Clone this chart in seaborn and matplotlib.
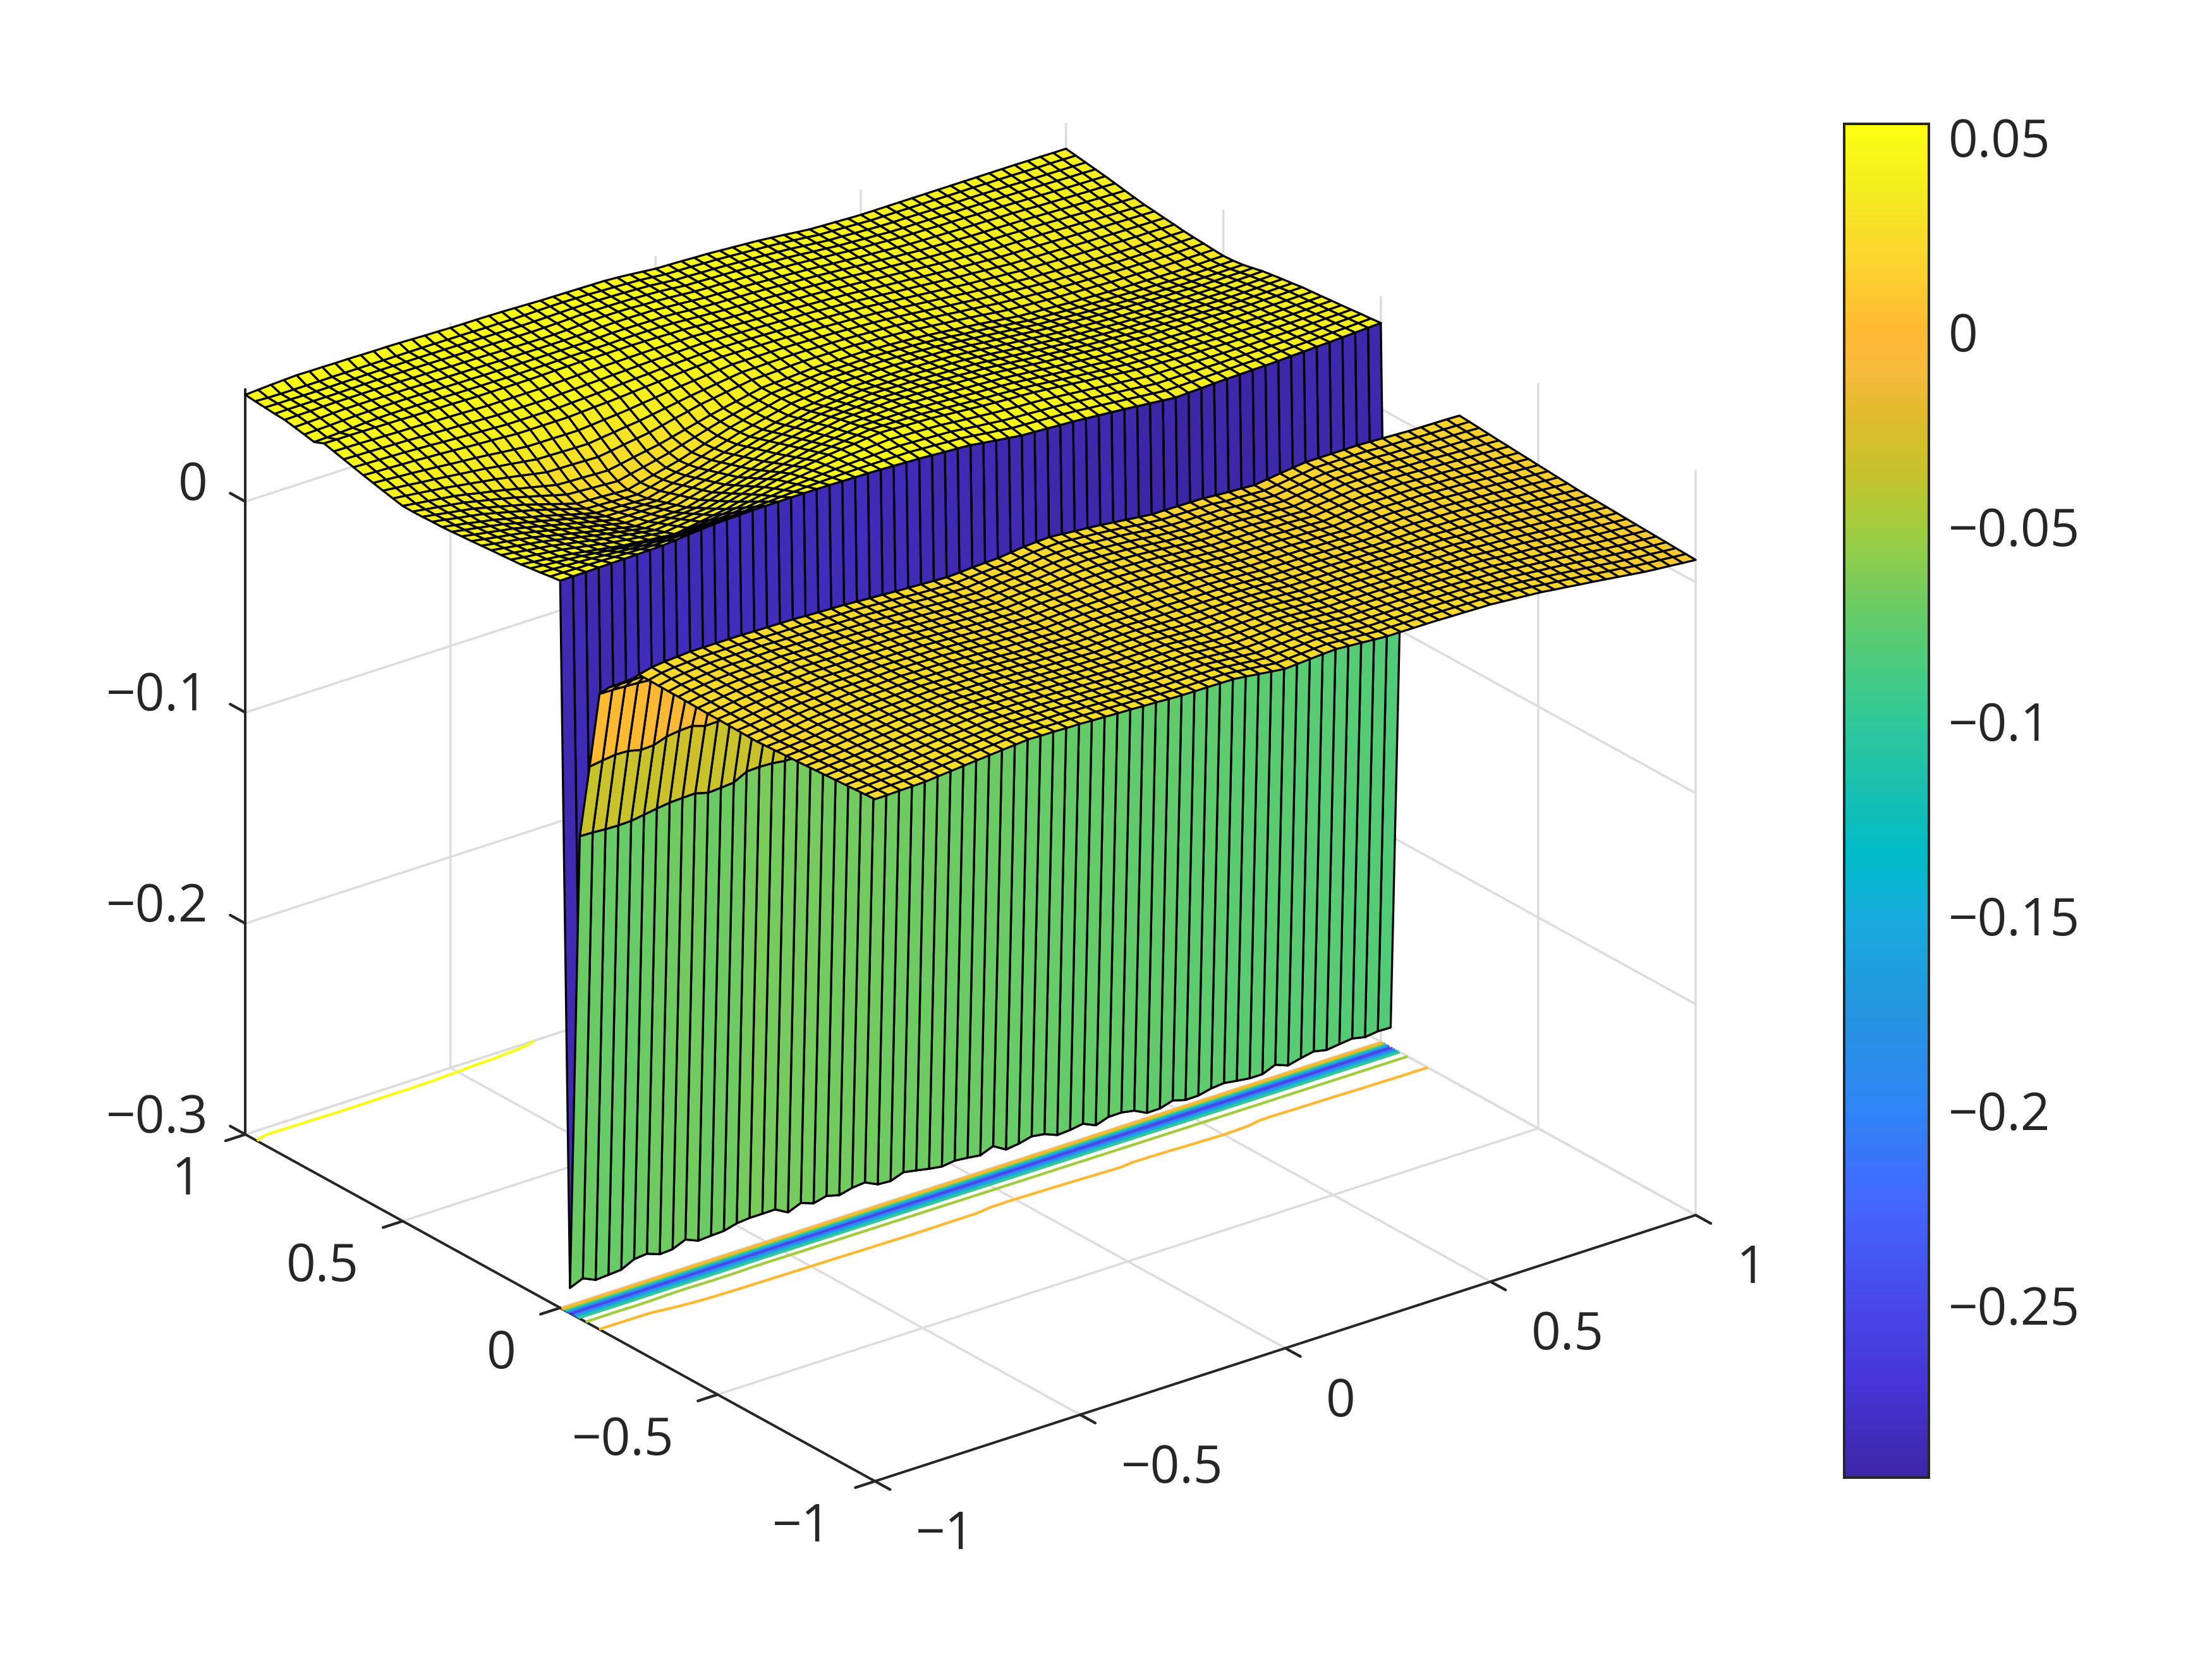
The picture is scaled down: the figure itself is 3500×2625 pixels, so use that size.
import numpy as np
import seaborn as sns
import matplotlib.pyplot as plt
from matplotlib.colors import LinearSegmentedColormap, Normalize
from matplotlib.cm import ScalarMappable
from mpl_toolkits.mplot3d import proj3d

sns.set_theme(style="white")
plt.rcParams['font.family'] = ['Open Sans', 'DejaVu Sans']

# surface heights, in units of 1e-4, one row per y (65 x 65 mesh)
# y = -1 ... -0.25
low_plate = [
 [213,214,216,217, 219,225,230,236, 241,246,251,256, 261,259,258,256, 255,252,250,247, 245,242,240,236, 234,233,233,232, 231,224,216,208, 201,205,209,213, 216,211,207,202, 198,198,197,197, 196,194,193,191, 190,185,180,175, 170,162,155,147, 140,132,124,116, 108,102,97,91, 86],
 [210,212,215,216, 218,223,229,234, 239,245,249,254, 258,257,255,253, 252,250,247,245, 242,240,237,233, 231,230,230,229, 228,222,215,208, 201,204,207,211, 214,209,205,200, 196,196,195,195, 194,192,191,189, 188,184,179,174, 169,161,155,148, 141,133,126,118, 110,104,99,93, 88],
 [207,210,213,215, 217,222,227,233, 238,243,247,251, 255,254,252,251, 250,247,244,241, 238,236,233,230, 227,227,227,226, 226,219,213,206, 200,203,206,209, 212,208,203,198, 194,194,193,192, 192,190,189,187, 185,181,177,172, 168,161,155,148, 141,134,127,119, 112,106,101,95, 90],
 [204,207,211,213, 215,220,225,231, 236,240,244,248, 252,251,250,248, 247,244,241,238, 235,232,229,226, 224,224,224,223, 223,217,211,205, 199,201,204,207, 210,206,201,197, 192,192,191,190, 190,188,186,184, 183,179,175,171, 167,160,154,148, 142,135,128,121, 114,108,102,97, 92],
 [201,204,208,211, 214,219,224,229, 234,238,241,245, 250,248,247,245, 244,241,238,235, 232,229,226,223, 221,221,221,220, 220,214,209,203, 199,201,203,206, 209,204,199,195, 190,190,189,188, 187,185,184,182, 180,177,173,170, 167,160,154,148, 143,136,129,122, 115,109,104,99, 94],
 [198,202,206,210, 213,218,223,227, 232,236,240,243, 247,245,244,243, 241,238,235,232, 229,226,223,220, 218,218,218,217, 218,212,207,202, 198,200,202,205, 207,203,198,193, 188,188,187,186, 185,183,181,179, 178,175,172,169, 165,159,153,148, 143,137,130,124, 117,111,106,101, 96],
 [195,199,203,207, 212,216,221,226, 230,234,237,240, 244,243,241,240, 238,235,232,229, 225,222,219,217, 214,215,215,215, 215,210,205,200, 198,199,201,203, 205,201,196,191, 186,186,185,184, 183,181,179,177, 175,173,170,167, 165,159,153,148, 144,137,131,125, 119,113,108,103, 98],
 [192,196,200,205, 210,215,220,224, 229,232,235,238, 241,240,238,237, 235,232,229,226, 222,219,216,214, 211,212,212,212, 213,208,203,199, 197,198,200,201, 203,199,195,190, 185,184,183,182, 181,179,177,175, 173,171,169,166, 164,158,153,149, 145,138,132,127, 121,115,110,105, 100],
 [189,193,198,203, 209,214,219,223, 228,230,232,235, 239,237,235,234, 233,229,226,223, 219,216,213,211, 208,209,209,210, 210,206,202,198, 197,197,198,200, 201,197,193,188, 183,182,181,180, 179,177,175,173, 170,169,167,165, 164,158,153,149, 145,139,133,128, 122,117,112,107, 102],
 [187,191,196,201, 208,213,218,222, 226,228,230,233, 236,234,232,231, 230,226,223,219, 216,213,211,208, 205,206,207,207, 208,204,200,197, 196,196,197,198, 199,195,191,186, 181,180,179,178, 177,175,173,171, 168,167,166,164, 163,158,154,150, 147,141,135,130, 124,119,114,109, 104],
 [184,188,193,199, 207,212,216,220, 225,227,229,231, 233,232,230,228, 228,224,221,217, 212,210,208,205, 202,203,204,205, 205,202,199,197, 196,195,196,195, 195,193,190,185, 179,178,177,176, 175,173,171,169, 165,165,164,163, 162,157,154,151, 148,142,137,132, 126,121,116,110, 106],
 [181,185,191,198, 206,211,215,219, 223,225,227,229, 231,229,227,226, 225,221,218,214, 209,207,205,202, 199,200,201,202, 203,200,197,196, 195,194,194,193, 192,190,188,183, 177,176,175,174, 173,171,169,167, 163,163,162,161, 161,157,154,151, 149,144,139,134, 128,123,118,112, 108],
 [178,184,190,197, 205,210,214,218, 222,224,225,227, 228,227,225,224, 222,218,215,210, 205,203,201,198, 195,197,198,199, 200,198,196,195, 195,193,192,191, 190,188,185,180, 175,174,173,171, 170,168,166,163, 160,160,160,160, 160,157,155,153, 150,145,141,136, 130,125,120,115, 110],
 [179,185,191,199, 206,211,214,218, 222,222,223,225, 227,225,224,222, 220,216,213,208, 204,202,199,197, 193,196,197,199, 199,198,197,196, 196,194,192,191, 190,186,183,179, 174,173,171,170, 169,166,164,161, 158,159,160,161, 161,158,157,155, 152,147,143,138, 132,128,123,118, 114],
 [180,186,193,200, 207,211,214,218, 221,221,222,223, 225,224,222,220, 219,215,211,206, 202,200,197,195, 192,195,196,198, 198,198,198,197, 197,195,193,191, 190,185,182,177, 172,171,170,168, 167,164,162,159, 156,158,160,161, 162,160,158,157, 153,149,145,141, 135,130,126,121, 117],
 [181,187,194,202, 208,211,213,217, 221,220,220,221, 223,222,220,218, 217,213,209,204, 200,198,195,193, 190,193,195,197, 197,198,199,199, 198,196,194,192, 189,185,181,176, 171,170,168,167, 165,162,160,157, 153,156,160,162, 163,161,160,159, 155,151,148,143, 138,134,129,125, 121],
 [182,188,196,203, 209,212,213,216, 220,219,218,219, 220,219,218,216, 215,211,207,203, 199,196,193,191, 188,191,194,196, 196,198,200,200, 200,197,195,192, 189,184,180,175, 170,168,166,165, 164,160,158,154, 151,155,159,162, 164,162,161,161, 157,153,150,146, 140,136,132,128, 124],
 [182,190,198,205, 210,212,213,216, 219,218,217,217, 218,217,216,214, 213,209,205,201, 197,194,191,189, 186,190,193,195, 195,198,200,201, 201,198,195,193, 188,183,178,173, 168,167,165,163, 162,158,156,152, 148,153,158,162, 165,163,163,162, 159,155,152,148, 143,139,135,132, 128],
 [183,192,199,206, 211,213,213,215, 219,217,216,215, 216,215,214,212, 211,207,203,199, 196,192,189,187, 184,188,192,194, 194,198,201,202, 202,199,196,193, 188,182,177,172, 166,165,163,162, 160,156,154,150, 146,152,157,162, 166,165,165,164, 160,156,154,150, 146,142,139,135, 131],
 [184,194,201,208, 212,214,214,215, 219,217,215,214, 215,213,212,210, 209,205,201,197, 194,190,187,185, 182,187,190,192, 193,197,201,203, 203,200,197,193, 188,182,176,170, 165,164,162,160, 159,154,152,148, 144,151,156,162, 167,166,166,165, 162,158,155,152, 148,145,142,139, 135],
 [185,196,203,209, 213,215,215,216, 218,216,214,213, 214,212,210,208, 207,203,199,196, 192,188,185,183, 180,185,189,191, 192,197,202,204, 205,201,197,193, 187,181,174,169, 163,162,160,159, 157,152,150,146, 142,149,155,162, 168,167,167,166, 163,159,157,154, 150,147,145,142, 138],
 [185,197,204,210, 214,216,216,217, 218,215,213,212, 212,210,208,206, 205,201,197,194, 191,186,183,181, 178,183,187,190, 191,196,202,205, 205,201,197,192, 187,180,173,167, 162,160,159,157, 156,150,148,144, 141,148,155,162, 168,168,168,167, 165,161,158,156, 152,150,148,145, 142],
 [186,199,206,211, 215,216,216,217, 217,214,212,211, 211,209,207,205, 204,200,196,193, 190,185,182,179, 177,182,186,189, 190,196,202,205, 206,202,197,192, 187,180,172,166, 160,159,158,156, 156,149,147,143, 140,147,154,162, 168,168,168,168, 166,162,160,157, 154,152,151,149, 146],
 [187,201,208,212, 216,216,216,217, 217,214,212,211, 211,208,206,204, 203,199,195,192, 188,183,180,178, 176,180,184,187, 188,195,202,205, 207,202,197,192, 186,179,171,165, 159,158,157,156, 155,148,146,142, 139,146,154,161, 169,169,169,169, 168,164,161,160, 156,154,153,151, 150],
 [187,202,209,213, 217,217,217,217, 217,215,214,213, 212,209,206,204, 202,198,194,191, 187,184,181,178, 175,178,182,185, 187,194,201,205, 208,203,197,192, 186,179,172,165, 158,158,157,156, 155,150,146,143, 139,147,155,162, 169,169,169,169, 169,167,164,161, 158,157,156,155, 153],
]
# rows hidden behind the plate, y = -0.22 ... -0.16
hidden_rows = [
 [150,152,156,160, 164,166,167,168, 168,166,165,164, 163,160,157,155, 153,150,146,143, 140,136,133,130, 127,130,134,137, 139,145,152,156, 159,154,148,143, 137,130,123,116, 110,110,109,108, 107,101,98,95, 91,98,106,113, 120,120,120,120, 120,118,115,112, 109,108,107,106, 104],
 [110,112,116,120, 124,126,127,128, 128,126,125,124, 123,120,117,115, 113,110,106,103, 100,96,93,90, 87,90,94,97, 99,105,112,116, 119,114,108,103, 97,90,83,76, 70,70,69,68, 67,61,58,55, 51,58,66,73, 80,80,80,80, 80,78,75,72, 69,68,67,66, 64],
 [70,72,76,80, 84,86,87,88, 88,86,85,84, 83,80,77,75, 73,70,66,63, 60,56,53,50, 47,50,54,57, 59,65,72,76, 79,74,68,63, 57,50,43,36, 30,30,29,28, 27,21,18,15, 11,18,26,33, 40,40,40,40, 40,38,35,32, 29,28,27,26, 24],
]
# y = -0.125, top of the orange cells
wall_orange = [13,12,9,6, 0,-15,-35,-55, -75,-85,-95,-100, -105,-110,-112,-118, -120,-122,-118,-125, -128,-125,-130,-132, -135,-138,-140,-142, -150,-155,-85,-80, -85,-88,-92,-95, -98,-102,-105,-110, -115,-60,-60,-65, -70,-75,-80,-85, -90,-95,-100,-45, -50,-55,-60,-65, -68,-70,-72,-75, -75,-78,-80,-80, -80]
# y = -0.094, top of the olive cells
wall_olive = [-357,-348,-340,-342, -357,-354,-333,-325, -322,-342,-340,-338, -340,-342,-344,-343, -345,-347,-346,-348, -350,-349,-351,-352, -350,-353,-355,-354, -352,-355,-357,-356, -358,-357,-359,-361, -360,-358,-360,-362, -361,-363,-362,-364, -366,-365,-367,-368, -366,-368,-370,-369, -371,-372,-370,-373, -374,-372,-375,-376, -374,-376,-378,-377, -378]
# y = -0.0625, top of the green cells
wall_green = [-713,-715,-719,-721, -719,-710,-700,-692, -689,-687,-704,-700, -695,-663,-660,-663, -671,-672,-675,-678, -680,-684,-686,-689, -691,-694,-697,-699, -702,-705,-707,-710, -713,-716,-719,-722, -725,-728,-731,-733, -737,-740,-743,-746, -749,-752,-755,-758, -761,-764,-767,-771, -774,-777,-780,-783, -786,-790,-793,-796, -800,-804,-808,-813, -820]
# y = -0.031, jagged bottom edge of the wall
wall_bottom = [-2880,-2854,-2881,-2877, -2872,-2842,-2836,-2858, -2854,-2828,-2853,-2849, -2846,-2830,-2824,-2824, -2823,-2857,-2832,-2853, -2838,-2854,-2839,-2833, -2862,-2866,-2844,-2855, -2867,-2876,-2868,-2874, -2882,-2858,-2894,-2886, -2871,-2880,-2904,-2900, -2890,-2917,-2897,-2896, -2907,-2937,-2936,-2918, -2935,-2934,-2920,-2914, -2923,-2931,-2931,-2906, -2929,-2914,-2902,-2915, -2907,-2900,-2913,-2905, -2907]
# y = 0 ... 0.75
top_plate = [
 [419,420,421,422, 423,424,425,427, 428,434,440,445, 451,453,455,457, 458,458,459,459, 459,458,457,456, 455,453,451,448, 446,442,438,435, 431,422,414,406, 398,395,392,388, 385,380,375,370, 365,359,353,347, 341,344,346,349, 351,352,354,355, 357,360,362,365, 367,370,373,376, 379],
 [413,412,411,410, 409,407,405,404, 402,404,407,410, 413,417,420,424, 428,432,436,440, 444,446,448,450, 451,451,451,451, 451,447,444,440, 437,430,422,415, 407,404,401,397, 394,389,383,378, 372,366,360,354, 348,349,350,352, 353,354,355,355, 356,358,360,362, 364,367,369,372, 374],
 [406,403,400,397, 394,389,385,380, 376,375,375,375, 375,381,387,393, 399,407,414,422, 430,434,439,443, 447,449,451,453, 455,452,449,446, 443,436,429,423, 416,412,409,405, 402,397,391,386, 380,374,368,361, 355,355,355,355, 355,355,356,356, 356,357,358,360, 361,363,366,368, 370],
 [400,395,390,385, 380,373,365,358, 351,348,345,341, 338,346,354,362, 370,381,393,404, 415,422,430,437, 444,448,452,456, 460,457,455,452, 449,443,437,432, 426,422,418,415, 411,405,399,393, 387,381,375,369, 363,361,360,359, 358,357,356,356, 355,356,357,357, 358,360,362,363, 365],
 [393,386,379,372, 365,355,345,335, 325,319,312,306, 300,310,320,330, 340,355,370,385, 400,410,420,430, 440,446,452,459, 465,463,460,458, 455,450,445,440, 435,431,427,424, 420,414,408,402, 395,389,383,376, 370,367,365,362, 360,359,358,356, 355,355,355,355, 355,356,358,359, 360],
 [390,382,375,367, 359,348,337,326, 315,307,299,292, 284,292,300,308, 316,331,347,362, 378,390,401,413, 425,433,440,448, 455,454,453,451, 450,445,441,436, 432,428,425,421, 417,411,405,398, 392,386,380,375, 369,366,363,360, 357,356,355,353, 352,352,351,351, 351,352,353,355, 356],
 [386,378,369,361, 352,340,329,317, 305,296,287,277, 268,274,280,286, 292,307,323,339, 355,369,383,396, 410,419,428,436, 445,445,445,445, 445,441,438,434, 430,426,423,419, 415,409,402,396, 390,384,379,373, 367,364,361,358, 355,354,352,351, 350,349,349,348, 347,348,349,350, 351],
 [383,374,365,355, 346,333,320,308, 295,284,273,262, 251,256,260,264, 269,285,301,317, 333,348,364,379, 395,405,415,425, 435,436,437,439, 440,437,434,430, 427,423,420,416, 412,406,400,393, 387,382,376,371, 366,362,359,355, 352,351,349,348, 347,346,345,345, 344,345,345,346, 347],
 [379,369,360,350, 340,326,312,299, 285,272,260,247, 235,237,240,242, 245,261,277,294, 310,328,345,362, 380,391,402,414, 425,428,430,432, 435,432,430,428, 425,421,418,414, 410,404,398,391, 385,380,375,370, 365,361,358,354, 350,349,348,346, 345,344,342,341, 340,341,341,342, 343],
 [375,365,355,345, 335,321,307,293, 279,265,252,238, 225,226,227,229, 230,246,262,279, 295,313,330,348, 365,377,389,400, 412,416,419,423, 426,424,422,421, 419,415,412,408, 405,399,393,386, 380,375,369,364, 359,355,352,348, 344,343,341,339, 337,336,334,333, 332,333,334,335, 336],
 [372,361,351,340, 330,315,301,286, 272,258,243,229, 215,215,215,215, 215,231,248,264, 280,298,315,333, 350,363,375,388, 400,405,409,414, 418,417,415,414, 412,409,406,403, 400,394,387,381, 375,369,364,358, 352,349,345,342, 338,336,334,332, 330,329,327,326, 325,326,327,329, 330],
 [368,357,347,336, 325,310,295,281, 266,251,236,220, 205,204,202,201, 200,216,233,249, 265,283,300,318, 335,348,361,374, 387,392,398,403, 409,408,407,407, 406,403,400,398, 395,389,383,376, 370,364,358,352, 346,342,339,335, 331,329,326,324, 322,321,319,318, 317,318,320,321, 323],
 [365,354,343,331, 320,305,290,275, 260,244,227,211, 195,192,190,187, 185,201,218,234, 250,268,285,303, 320,334,348,361, 375,381,388,394, 400,400,400,400, 400,398,395,393, 390,384,378,371, 365,359,353,346, 340,336,333,329, 325,322,320,317, 315,314,312,311, 310,311,313,314, 316],
 [364,354,343,333, 322,307,292,277, 262,244,226,208, 190,187,184,181, 178,193,209,224, 240,259,278,296, 315,329,344,358, 373,379,385,391, 397,397,397,397, 397,394,391,388, 385,379,373,366, 360,354,348,341, 335,331,328,324, 320,318,315,313, 310,308,307,305, 303,303,304,304, 305],
 [362,352,342,332, 322,307,292,277, 262,243,225,206, 188,185,182,178, 175,190,205,220, 235,254,274,293, 312,327,342,356, 371,377,382,388, 393,393,393,393, 393,390,387,383, 380,374,368,361, 355,348,342,335, 328,324,320,316, 312,309,306,303, 300,299,298,296, 295,295,295,295, 295],
 [361,352,343,334, 325,311,298,284, 270,254,238,221, 205,201,197,194, 190,204,217,231, 245,263,280,298, 315,329,343,356, 370,375,379,384, 388,388,388,389, 389,386,382,379, 375,369,363,356, 350,343,335,328, 320,316,313,309, 305,303,300,298, 295,293,292,290, 288,288,288,289, 289],
 [362,354,346,338, 330,318,305,293, 280,266,253,239, 225,222,220,217, 215,226,238,249, 260,275,290,305, 320,333,345,358, 370,374,377,381, 385,385,385,385, 385,381,378,374, 370,364,358,351, 345,338,330,323, 315,311,308,304, 300,298,295,293, 290,289,288,286, 285,285,285,286, 286],
 [372,365,358,350, 343,333,324,314, 305,294,283,271, 260,258,257,255, 253,262,272,281, 290,304,318,331, 345,354,364,373, 382,384,386,389, 391,391,390,390, 389,385,382,378, 374,368,362,355, 349,342,335,327, 320,316,312,308, 304,302,299,297, 294,293,292,290, 289,289,289,289, 289],
 [383,377,371,364, 358,351,344,337, 330,321,313,304, 295,294,292,291, 290,298,305,313, 320,330,340,350, 360,368,377,385, 393,394,396,397, 398,397,395,394, 392,389,385,382, 378,372,365,359, 352,345,339,332, 325,320,316,311, 307,305,302,300, 298,297,295,294, 292,292,292,293, 293],
 [394,390,385,381, 376,371,365,360, 355,349,342,336, 330,329,329,328, 328,333,339,344, 350,358,365,373, 380,386,392,398, 404,404,404,404, 404,402,400,398, 396,392,389,385, 381,375,369,362, 356,349,343,336, 330,325,321,316, 311,308,306,303, 301,300,298,297, 296,296,296,296, 296],
 [405,402,400,397, 395,391,388,384, 380,376,373,369, 365,365,365,365, 365,369,373,376, 380,385,390,395, 400,404,408,411, 415,414,413,411, 410,408,405,403, 400,396,393,389, 385,379,373,366, 360,354,348,341, 335,330,325,320, 315,313,310,308, 305,304,303,301, 300,300,300,300, 300],
 [417,415,413,411, 409,406,403,399, 396,393,390,387, 384,384,384,384, 384,387,390,393, 396,400,404,407, 411,414,416,419, 421,419,418,416, 414,411,409,406, 404,400,397,393, 389,383,377,371, 365,359,353,347, 341,337,332,328, 323,321,319,316, 314,313,311,310, 308,307,307,306, 306],
 [429,427,426,424, 422,420,417,415, 412,410,407,405, 402,402,402,402, 402,405,407,410, 412,415,417,420, 422,423,425,426, 427,425,423,420, 418,415,413,410, 408,404,400,396, 392,386,381,375, 370,365,359,354, 348,344,339,335, 330,328,326,324, 322,320,318,317, 315,314,313,312, 311],
 [441,440,439,437, 436,434,433,431, 429,427,425,423, 421,421,421,421, 421,423,425,427, 429,430,431,432, 433,434,434,434, 434,431,428,424, 421,418,416,413, 411,407,404,400, 396,391,385,380, 375,370,364,359, 354,350,346,342, 338,336,335,333, 331,329,327,325, 323,322,320,319, 317],
 [453,452,452,451, 450,449,448,446, 445,444,443,441, 440,440,440,440, 440,441,443,444, 445,445,445,445, 445,444,443,441, 440,436,432,429, 425,423,420,418, 415,411,408,404, 400,395,390,385, 380,375,370,365, 360,356,353,349, 345,344,343,341, 340,338,335,333, 330,328,326,324, 322],
]
# y = 0.78 ... 1, the 0.05 contour runs through these
back_rows = [
 [462,464,467,470, 475,477,478,478, 478,477,476,474, 473,472,472,471, 471,472,472,473, 474,474,474,474, 476,476,476,475, 473,469,465,461, 457,455,452,450, 447,443,440,436, 432,427,422,417, 412,408,403,398, 393,390,387,384, 381,380,379,377, 376,374,371,369, 366,364,362,360, 358],
 [472,474,476,479, 482,483,484,484, 484,483,482,480, 479,478,477,477, 476,476,476,476, 476,476,476,478, 480,480,479,478, 478,474,469,465, 461,459,456,454, 451,447,444,440, 436,431,426,421, 416,412,407,403, 398,396,393,391, 388,387,386,384, 383,381,378,376, 374,372,370,368, 366],
 [481,483,485,488, 490,490,490,489, 489,488,486,485, 484,483,482,481, 480,479,479,478, 478,478,479,481, 484,485,485,484, 483,478,474,469, 464,462,459,457, 454,450,447,443, 439,434,429,424, 419,415,411,407, 403,401,400,398, 396,395,394,392, 391,389,386,384, 382,380,378,377, 375],
 [490,491,492,494, 495,495,495,495, 495,494,492,491, 490,487,487,486, 485,483,482,481, 480,480,482,485, 490,490,490,488, 484,482,478,473, 468,465,463,460, 458,454,451,447, 443,438,433,428, 423,419,416,412, 408,407,406,404, 403,402,400,399, 398,396,394,392, 390,388,386,385, 383],
 [493,494,494,494, 494,494,495,496, 496,496,495,495, 494,493,492,491, 490,489,488,487, 486,487,488,490, 492,492,491,490, 488,485,482,476, 470,468,465,463, 460,456,453,449, 445,440,434,429, 423,420,416,413, 409,408,408,407, 406,405,404,403, 402,401,400,398, 397,395,393,392, 390],
 [497,496,496,495, 495,495,496,496, 497,497,497,497, 497,496,496,495, 494,493,492,491, 490,491,492,493, 494,494,493,491, 489,486,483,477, 471,469,466,464, 461,457,454,450, 446,441,435,429, 423,421,417,414, 411,410,410,409, 408,408,407,407, 406,405,404,402, 401,400,399,398, 397],
 [501,498,497,497, 497,497,498,498, 498,498,498,498, 498,498,498,497, 497,496,495,495, 494,495,496,497, 497,496,495,492, 490,487,484,478, 472,470,468,465, 463,459,455,451, 447,442,436,430, 423,421,418,415, 412,412,412,411, 411,411,410,410, 410,409,409,408, 407,406,406,405, 404],
 [506,510,514,517, 520,519,519,518, 518,517,516,516, 515,513,511,510, 508,507,507,506, 505,503,501,499, 498,497,496,495, 494,490,485,479, 473,471,469,466, 464,460,456,452, 448,442,436,429, 423,420,418,415, 413,413,413,413, 413,413,413,413, 413,413,413,413, 413,412,412,411, 411],
]
low_shift = 20   # small correction after comparing with the reference
top_shift = 28

cmap_values = [-0.2943, -0.27, -0.25, -0.225, -0.2, -0.175, -0.15, -0.135, -0.115, -0.1, -0.085, -0.07, -0.05, -0.035, -0.02, -0.01, 0, 0.01, 0.02, 0.035, 0.05, 0.0533]
cmap_colors = ['#3D26A5', '#4636D8', '#4848E8', '#4466FF', '#2F85F5', '#2594E0', '#17ACDD', '#00BBC8', '#1CC0AC', '#2FC898', '#4BCB7F', '#6CCB63', '#A3CC3E', '#C8C22A', '#E2BB2B', '#F5BA3A', '#FFB833', '#FDC82F', '#FBD52E', '#F4EA20', '#F9FB15', '#FFFF10']
z_ticks = [-0.3, -0.2, -0.1, 0]
z_tick_labels = ['\u22120.3', '\u22120.2', '\u22120.1', '0']
xy_ticks = [-1, -0.5, 0, 0.5, 1]
xy_tick_labels = ['\u22121', '\u22120.5', '0', '0.5', '1']
cbar_ticks = [-0.25, -0.2, -0.15, -0.1, -0.05, 0, 0.05]
cbar_labels = ['\u22120.25', '\u22120.2', '\u22120.15', '\u22120.1', '\u22120.05', '0', '0.05']
contour_levels = [-0.25, -0.2, -0.15, -0.1, -0.05, 0, 0.05]

z_min, z_max = -0.2943, 0.0533
norm = Normalize(z_min, z_max)
cmap = LinearSegmentedColormap.from_list(
    'parula_like', [(norm(v), c) for v, c in zip(cmap_values, cmap_colors)], N=256)

Z = np.vstack([
    np.array(low_plate) + low_shift,
    np.array(hidden_rows),
    np.array([wall_orange, wall_olive, wall_green, wall_bottom]),
    np.array(top_plate) + top_shift,
    np.array(back_rows),
]) * 1e-4
grid = np.linspace(-1, 1, Z.shape[1])
X, Y = np.meshgrid(grid, grid)

fig = plt.figure(figsize=(14, 10.5), dpi=250)
ax = fig.add_axes([0.0036, 0.003, 0.85, 1.0], projection='3d', computed_zorder=False)
ax.set_proj_type('ortho')
ax.view_init(elev=25, azim=-127.5)
ax.set_box_aspect((1, 1, 0.795), zoom=0.982)

ax.contour(X, Y, Z, levels=contour_levels, zdir='z', offset=-0.3, cmap=cmap, norm=norm, linewidths=1.25, zorder=1)

# two pieces so the green wall stays in front of the blue one
surf_kw = dict(shade=False, edgecolor='black', linewidth=0.95, rstride=1, cstride=1)
ax.plot_surface(X[31:], Y[31:], Z[31:], facecolors=cmap(norm(Z[31:])), zorder=3, **surf_kw)
ax.plot_surface(X[:32], Y[:32], Z[:32], facecolors=cmap(norm(Z[:32])), zorder=4, **surf_kw)

ax.set_xlim(-1, 1)
ax.set_ylim(-1, 1)
ax.set_zlim(-0.3, z_max)
ax.set_xticks(xy_ticks)
ax.set_yticks(xy_ticks)
ax.set_zticks(z_ticks)
ax.set_xticklabels([''] * 5)
ax.set_yticklabels([''] * 5)
ax.set_zticklabels([''] * 4)
ax.zaxis._get_tickdir = lambda position: 1
for a in (ax.xaxis, ax.yaxis, ax.zaxis):
    a.set_pane_color((1, 1, 1, 1))
    a.pane.set_edgecolor('white')
    a._axinfo['grid'].update(color='#dcdcdc', linewidth=1.0)
    a.line.set_linewidth(1.15)
    a.line.set_color('#262626')
ax.xaxis._axinfo['tick'].update(inward_factor=0.3, outward_factor=0)
ax.yaxis._axinfo['tick'].update(inward_factor=0.3, outward_factor=0)
ax.zaxis._axinfo['tick'].update(inward_factor=0, outward_factor=0.3)
ax.tick_params(colors='#262626', width=1.0)


def tick_label(x, y, z, text, ha, dx, dy):
    px, py, _ = proj3d.proj_transform(x, y, z, ax.get_proj())
    ax.annotate(text, (px, py), xytext=(dx, dy), textcoords='offset points',
                ha=ha, va='center', fontsize=23.5, color='#262626')


for v, s in zip(xy_ticks, xy_tick_labels):
    tick_label(v, -1, -0.3, s, 'left', 18.6, -24.8)
    tick_label(-1, v, -0.3, s, 'right', -20, -21.3)
for v, s in zip(z_ticks, z_tick_labels):
    tick_label(-1, 1, v, s, 'right', -17, 7)

cax = fig.add_axes([2918 / 3500, 1 - 2338 / 2625, 134 / 3500, 2142 / 2625])
cb = fig.colorbar(ScalarMappable(norm=norm, cmap=cmap), cax=cax, ticks=cbar_ticks)
cb.ax.set_yticklabels(cbar_labels)
cb.ax.tick_params(direction='in', length=6, width=1.0, labelsize=23.5, colors='#262626', pad=9)
cb.outline.set_edgecolor('#262626')
cb.outline.set_linewidth(1.15)

fig.savefig('out.png', dpi=250)
